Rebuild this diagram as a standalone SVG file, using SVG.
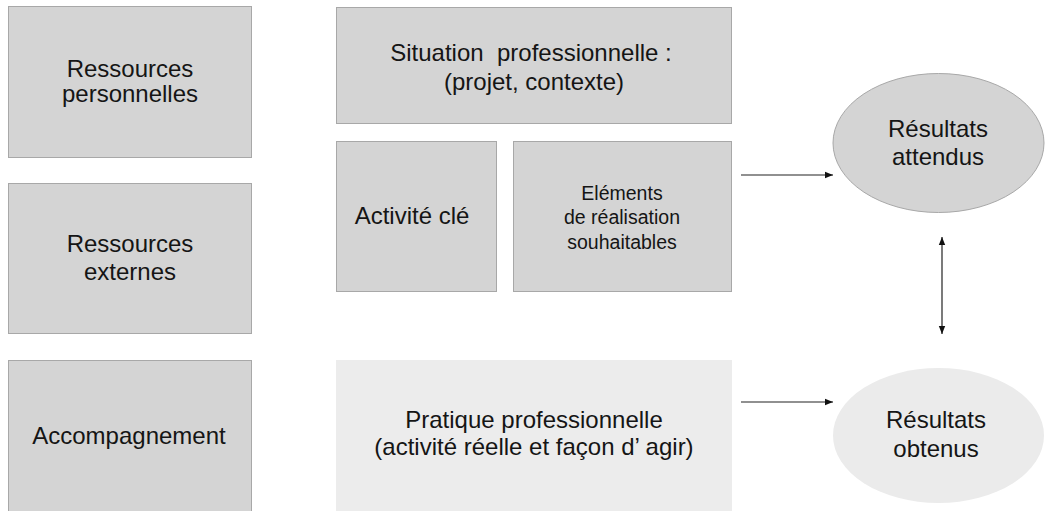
<svg xmlns="http://www.w3.org/2000/svg" width="1046" height="511" viewBox="0 0 1046 511">
<style>
.box{fill:#d4d4d4;stroke:#a8a8a8;stroke-width:1}
.light{fill:#ececec;stroke:none}
.t{font-family:"Liberation Sans",Arial,sans-serif;font-size:24px;fill:#151515;text-anchor:middle}
.s{font-size:19.5px}
.c{stroke:#222;stroke-width:1.2;fill:none}
</style>
<defs>
<marker id="ah" viewBox="0 0 10 10" refX="10" refY="5" markerWidth="8" markerHeight="8" markerUnits="userSpaceOnUse" orient="auto-start-reverse">
<path d="M0,1 L10,5 L0,9 Z" fill="#111"/>
</marker>
</defs>
<rect width="1046" height="511" fill="#ffffff"/>
<g id="ressources-personnelles">
<rect class="box" x="8.5" y="6.5" width="243" height="151"/>
<text class="t" x="130" y="77">Ressources</text>
<text class="t" x="130" y="102">personnelles</text>
</g>
<g id="ressources-externes">
<rect class="box" x="8.5" y="183.5" width="243" height="150"/>
<text class="t" x="130" y="252">Ressources</text>
<text class="t" x="130" y="280">externes</text>
</g>
<g id="accompagnement">
<rect class="box" x="8.5" y="360.5" width="243" height="152"/>
<text class="t" x="129" y="444">Accompagnement</text>
</g>
<g id="situation">
<rect class="box" x="336.5" y="7.5" width="395" height="116"/>
<text class="t" x="531" y="61" xml:space="preserve">Situation  professionnelle :</text>
<text class="t" x="534" y="90">(projet, contexte)</text>
</g>
<g id="activite-cle">
<rect class="box" x="336.5" y="141.5" width="160" height="150"/>
<text class="t" x="412" y="224">Activité clé</text>
</g>
<g id="elements">
<rect class="box" x="513.5" y="141.5" width="218" height="150"/>
<text class="t s" x="622" y="200">Eléments</text>
<text class="t s" x="622" y="224">de réalisation</text>
<text class="t s" x="622" y="249">souhaitables</text>
</g>
<g id="pratique">
<rect class="light" x="336" y="360" width="396" height="151"/>
<text class="t" x="534" y="428">Pratique professionnelle</text>
<text class="t" x="534" y="455">(activité réelle et façon d’ agir)</text>
</g>
<g id="resultats-attendus">
<ellipse cx="938.5" cy="143" rx="105.5" ry="69.5" fill="#d4d4d4" stroke="#a8a8a8" stroke-width="1"/>
<text class="t" x="938" y="137">Résultats</text>
<text class="t" x="938" y="165">attendus</text>
</g>
<g id="resultats-obtenus">
<ellipse cx="938.5" cy="435.5" rx="105.5" ry="67.5" fill="#ebebeb"/>
<text class="t" x="936" y="428">Résultats</text>
<text class="t" x="936" y="457">obtenus</text>
</g>
<g id="connectors">
<line class="c" x1="741" y1="175" x2="833" y2="175" marker-end="url(#ah)"/>
<line class="c" x1="741" y1="402" x2="833" y2="402" marker-end="url(#ah)"/>
<line class="c" x1="942" y1="237" x2="942" y2="334" marker-start="url(#ah)" marker-end="url(#ah)"/>
</g>
</svg>
